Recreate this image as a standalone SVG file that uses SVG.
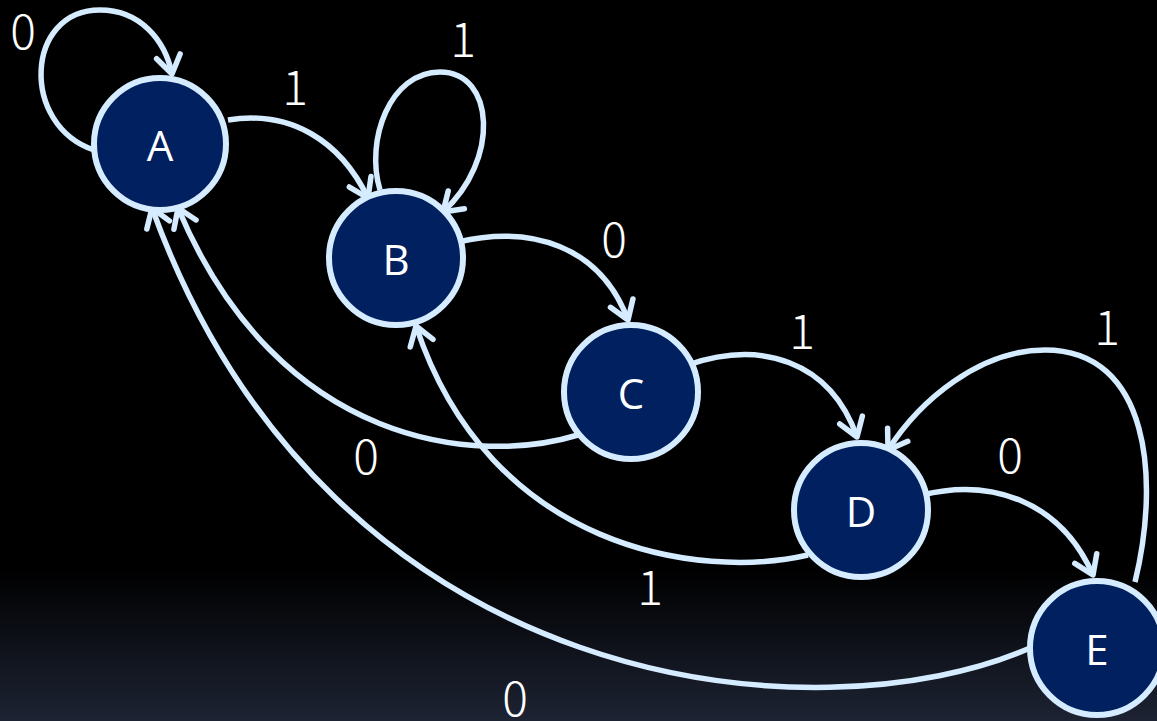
<svg xmlns="http://www.w3.org/2000/svg" width="1157" height="721" viewBox="0 0 1157 721">
<defs>
<linearGradient id="bg" x1="0" y1="0" x2="0" y2="1">
<stop offset="0" stop-color="#000"/>
<stop offset="0.79" stop-color="#000"/>
<stop offset="1" stop-color="#1d2333"/>
</linearGradient>
<marker id="arr" markerUnits="userSpaceOnUse" markerWidth="40" markerHeight="40" viewBox="-25 -20 30 40" refX="0" refY="0" orient="auto">
<path d="M -18,-12 L 0,0 L -18,12" fill="none" stroke="#d5ebff" stroke-width="5.5" stroke-linecap="round" stroke-linejoin="round"/>
</marker>
<style>
.n{fill:#00205f;stroke:#d5ebff;stroke-width:6}
.nt{fill:#fff;font-family:"Open Sans","Noto Sans",sans-serif;font-size:42px;text-anchor:middle;dominant-baseline:central}
.e{fill:none;stroke:#d5ebff;stroke-width:5.5;marker-end:url(#arr)}
.l{fill:#fff;font-family:"Noto Sans CJK JP","Noto Sans",sans-serif;font-weight:300;font-size:48px;text-anchor:middle;dominant-baseline:central}
</style>
</defs>
<rect width="1157" height="721" fill="url(#bg)"/>
<g id="connectors">
<path class="e" d="M 94,150 C 20,125 25,10 100,10 C 140,10 165,40 172,74"/>
<path class="e" d="M 228,120 C 290,110 340,140 368,198"/>
<path class="e" d="M 380,190 C 365,140 390,72 440,72 C 495,72 500,160 443,212"/>
<path class="e" d="M 458,242 C 530,225 600,245 628,320"/>
<path class="e" d="M 688,365 C 760,340 830,360 857,437"/>
<path class="e" d="M 922,495 C 990,478 1060,500 1093,575"/>
<path class="e" d="M 1135,582 C 1160,480 1150,350 1045,350 C 980,350 920,400 888,450"/>
<path class="e" d="M 578,435 C 480,465 280,450 178,208"/>
<path class="e" d="M 808,555 C 700,580 490,550 416,326"/>
<path class="e" d="M 1030,648 C 820,740 330,700 152,208"/>
</g>
<g id="labels">
<text class="l" x="23" y="28">0</text>
<text class="l" x="295" y="84">1</text>
<text class="l" x="463" y="36">1</text>
<text class="l" x="614" y="236">0</text>
<text class="l" x="802" y="328">1</text>
<text class="l" x="1010" y="452">0</text>
<text class="l" x="1107" y="324">1</text>
<text class="l" x="366" y="453">0</text>
<text class="l" x="650" y="584">1</text>
<text class="l" x="515" y="695">0</text>
</g>
<g id="A"><circle class="n" cx="160" cy="144" r="66"/><text class="nt" x="160" y="144">A</text></g>
<g id="B"><circle class="n" cx="396" cy="258" r="67"/><text class="nt" x="396" y="258">B</text></g>
<g id="C"><circle class="n" cx="631" cy="392" r="67"/><text class="nt" x="631" y="392">C</text></g>
<g id="D"><circle class="n" cx="861" cy="510" r="67"/><text class="nt" x="861" y="510">D</text></g>
<g id="E"><circle class="n" cx="1097" cy="648" r="67"/><text class="nt" x="1097" y="648">E</text></g>
</svg>
